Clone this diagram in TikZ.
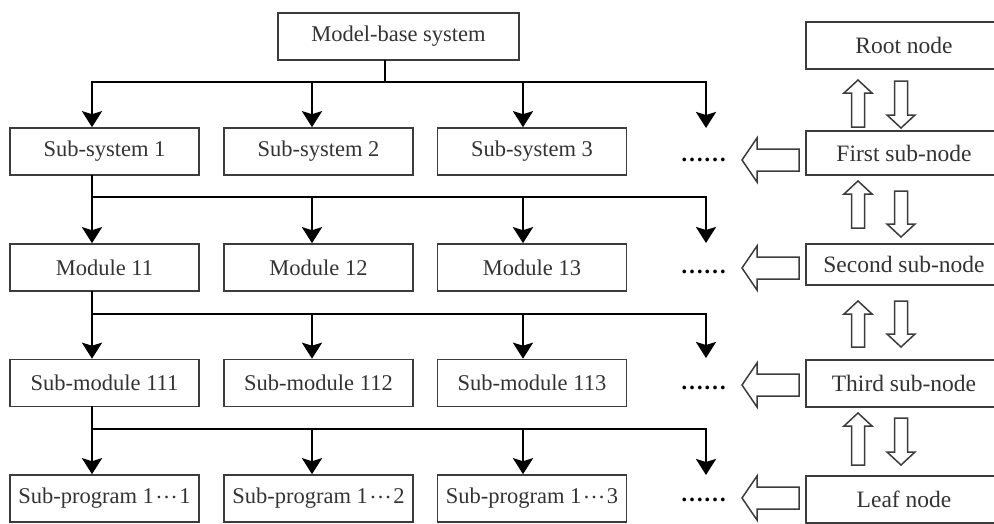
\documentclass[tikz,border=0pt]{standalone}
\usepackage{fontspec}
\setmainfont{Liberation Serif}
\usetikzlibrary{arrows.meta}
\definecolor{boxgray}{HTML}{3C3C3C}
\definecolor{txtgray}{HTML}{333333}
% hollow block arrows (x = centre line, y1 = tip / top, y2 = bottom / tip)
\newcommand\blockup[3]{\draw[hollow] (#1-6.5,#3) -- (#1-6.5,#2+13) -- (#1-14,#2+13) -- (#1,#2) -- (#1+14,#2+13) -- (#1+6.5,#2+13) -- (#1+6.5,#3) -- cycle;}
\newcommand\blockdown[3]{\draw[hollow] (#1-6.5,#2) -- (#1-6.5,#3-13) -- (#1-14,#3-13) -- (#1,#3) -- (#1+14,#3-13) -- (#1+6.5,#3-13) -- (#1+6.5,#2) -- cycle;}
% left-pointing block arrow ending at the "......" column
\newcommand\blockleft[1]{\draw[hollow] (799,#1-11) -- (757,#1-11) -- (757,#1-22) -- (742,#1) -- (757,#1+22) -- (757,#1+11) -- (799,#1+11) -- cycle;}
% raised dots between program numbers
\newcommand\middots{\kern1.5pt\raisebox{.26em}{…}\kern1.5pt}
\begin{document}
\begin{tikzpicture}[x=1pt,y=-1pt,
  box/.style={draw=boxgray, line width=1.6pt, minimum width=189pt, minimum height=47pt,
    inner sep=0pt, text=txtgray, font=\fontsize{22.5}{26}\selectfont},
  rbox/.style={box, minimum width=196pt, font=\fontsize{23.5}{27}\selectfont},
  bus/.style={line width=2.6pt, line cap=rect},
  arr/.style={line width=2.6pt, -{Stealth[length=16pt,width=20pt,inset=3pt]}},
  hollow/.style={draw=boxgray, line width=1.5pt, fill=white, line join=miter},
  dots/.style={anchor=base, inner sep=0pt, text=black, font=\fontsize{23}{26}\bfseries}]
\useasboundingbox (0,0) rectangle (994,523);
\clip (0,0) rectangle (994,523);

% column and junction positions
\coordinate (c1) at (92,0);
\coordinate (c2) at (312,0);
\coordinate (c3) at (523,0);
\coordinate (c4) at (706,0);
\coordinate (j0) at (385,82);
\coordinate (j1) at (0,197);
\coordinate (j2) at (0,314);
\coordinate (j3) at (0,429);

% hierarchy boxes
\node[box, minimum width=241pt] (top) at (398.5,36.5) {Model-base system};
\node[box] (s1) at (104.5,151.5) {Sub-system 1};
\node[box] (s2) at (318.5,151.5) {Sub-system 2};
\node[box] (s3) at (532,151.5) {Sub-system 3};
\node[box] (m1) at (104.5,267.5) {Module 11};
\node[box] (m2) at (318.5,267.5) {Module 12};
\node[box] (m3) at (532,267.5) {Module 13};
\node[box] (u1) at (104.5,383) {Sub-module 111};
\node[box] (u2) at (318.5,383) {Sub-module 112};
\node[box] (u3) at (532,383) {Sub-module 113};
\node[box] (p1) at (104.5,498.5) {Sub-program 1\middots1};
\node[box] (p2) at (318.5,498.5) {Sub-program 1\middots2};
\node[box] (p3) at (532,498.5) {Sub-program 1\middots3};

% continuation marks
\node[dots] (d1) at (703.5,161.5) {……};
\node[dots] (d2) at (703.5,273.5) {……};
\node[dots] (d3) at (703.5,389.5) {……};
\node[dots] (d4) at (703.5,501.5) {……};
\coordinate (e1) at (706,128);
\coordinate (e2) at (706,243);
\coordinate (e3) at (706,358);
\coordinate (e4) at (706,475);

% level 0 -> level 1
\draw[bus] (top.south -| j0) -- (j0);
\draw[bus] (c1 |- j0) -- (c4 |- j0);
\draw[arr] (c1 |- j0) -- (c1 |- s1.north);
\draw[arr] (c2 |- j0) -- (c2 |- s2.north);
\draw[arr] (c3 |- j0) -- (c3 |- s3.north);
\draw[arr] (c4 |- j0) -- (e1);

% level 1 -> level 2
\draw[bus] (c1 |- s1.south) -- (c1 |- j1) -- (c4 |- j1);
\draw[arr] (c1 |- j1) -- (c1 |- m1.north);
\draw[arr] (c2 |- j1) -- (c2 |- m2.north);
\draw[arr] (c3 |- j1) -- (c3 |- m3.north);
\draw[arr] (c4 |- j1) -- (e2);

% level 2 -> level 3
\draw[bus] (c1 |- m1.south) -- (c1 |- j2) -- (c4 |- j2);
\draw[arr] (c1 |- j2) -- (c1 |- u1.north);
\draw[arr] (c2 |- j2) -- (c2 |- u2.north);
\draw[arr] (c3 |- j2) -- (c3 |- u3.north);
\draw[arr] (c4 |- j2) -- (e3);

% level 3 -> level 4
\draw[bus] (c1 |- u1.south) -- (c1 |- j3) -- (c4 |- j3);
\draw[arr] (c1 |- j3) -- (c1 |- p1.north);
\draw[arr] (c2 |- j3) -- (c2 |- p2.north);
\draw[arr] (c3 |- j3) -- (c3 |- p3.north);
\draw[arr] (c4 |- j3) -- (e4);

% tree levels on the right
\node[rbox] (root) at (904,45.5) {Root node};
\node[rbox, minimum height=44pt] (first) at (904,153) {First sub-node};
\node[rbox, minimum height=41pt] (second) at (904,264.5) {Second sub-node};
\node[rbox] (third) at (904,383.5) {Third sub-node};
\node[rbox] (leaf) at (904,499.5) {Leaf node};

% up / down block arrows between levels
\blockup{858}{80}{127}   \blockdown{901}{81}{128}
\blockup{858}{181}{228}  \blockdown{901}{191}{237}
\blockup{858}{301}{347}  \blockdown{901}{301}{347}
\blockup{858}{413}{465}  \blockdown{901}{418}{465}

% block arrows pointing to the continuation marks
\blockleft{160}
\blockleft{268}
\blockleft{385}
\blockleft{498}
\end{tikzpicture}
\end{document}
